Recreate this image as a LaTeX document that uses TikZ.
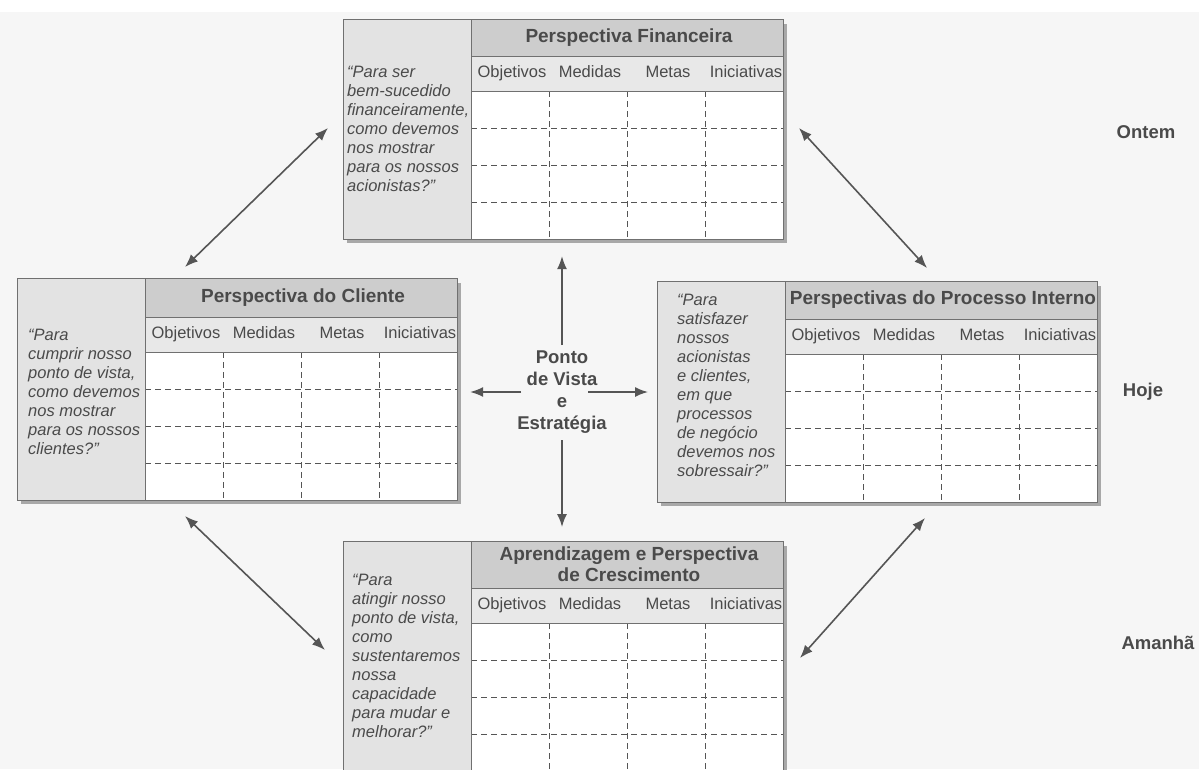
\documentclass[tikz,border=0pt]{standalone}
\usepackage{fontspec}
\setmainfont{Liberation Sans}
\usetikzlibrary{positioning,arrows.meta,calc}

\definecolor{cinzatexto}{HTML}{4A4A4A}
\definecolor{cinzacit}{HTML}{E3E3E3}
\definecolor{cinzatit}{HTML}{CDCDCD}
\definecolor{cinzacab}{HTML}{E8E8E8}
\definecolor{cinzaborda}{HTML}{707070}
\definecolor{cinzasombra}{HTML}{A8A8A8}
\definecolor{cinzaseta}{HTML}{555555}
\definecolor{papel}{HTML}{F6F6F6}

% quadro: nome, canto, altura do titulo, titulo, texto, posicao do texto
\newcommand{\quadro}[6]{%
  \begin{scope}[shift={#2}]
    \pgfmathsetmacro{\altura}{#3+183}
    \fill[cinzasombra] (4,5) rectangle (444,\altura+4);
    \fill[cinzacit] (0,0) rectangle (128,\altura);
    \fill[cinzatit] (128,0) rectangle (440,#3);
    \fill[cinzacab] (128,#3) rectangle (440,#3+35);
    \fill[white] (128,#3+35) rectangle (440,\altura);
    \foreach \i in {1,2,3}
      \draw[tracejado] (128,#3+35+37*\i) -- (440,#3+35+37*\i);
    \foreach \i in {1,2,3}
      \draw[tracejado] (128+78*\i,#3+35) -- (128+78*\i,\altura);
    \draw[linha] (128,#3) -- (440,#3) (128,#3+35) -- (440,#3+35);
    \draw[linha] (128,0) -- (128,\altura);
    \node[caixa, minimum height=\altura] (#1) at (0,0) {};
    \node[titulo] (#1-tit) at (286,#3/2) {#4};
    \foreach \c [count=\k] in {Objetivos,Medidas,Metas,Iniciativas}
      \node[coluna] (#1-col\k) at (128+78*\k-37,#3+17.5) {\c};
    \node[citacao, #6] (#1-txt) {#5};
  \end{scope}}

\begin{document}
\begin{tikzpicture}[x=1pt,y=-1pt,>={Latex[length=13pt,width=10pt]},
    caixa/.style={draw=cinzaborda,line width=1.1pt,anchor=north west,minimum width=440,inner sep=0},
    linha/.style={cinzaborda,line width=0.9pt},
    tracejado/.style={cinzaseta,line width=1pt,dash pattern=on 6pt off 4pt},
    titulo/.style={text=cinzatexto,font=\fontsize{19}{21}\selectfont\bfseries,align=center,inner sep=0},
    coluna/.style={text=cinzatexto,font=\fontsize{16.5}{18}\selectfont,inner sep=0,text height=12pt,text depth=3.5pt},
    citacao/.style={text=cinzatexto,font=\fontsize{16.5}{19}\selectfont\itshape,align=left,anchor=north west,inner sep=0},
    centro/.style={text=cinzatexto,font=\fontsize{18.5}{22}\selectfont\bfseries,align=center,inner sep=0},
    tempo/.style={text=cinzatexto,font=\fontsize{18.5}{22}\selectfont\bfseries,inner sep=0},
    seta/.style={draw=cinzaseta,line width=1.6pt}]
  \useasboundingbox (0,0) rectangle (1199,769);
  \clip (0,0) rectangle (1199,769);
  \fill[papel] (0,12) rectangle (1199,769);

  \quadro{fin}{(343,19)}{37}{Perspectiva Financeira}
    {“Para ser\\bem-sucedido\\financeiramente,\\como devemos\\nos mostrar\\para os nossos\\acionistas?”}{at={(4,47)}}
  \quadro{cli}{(17,278)}{39}{Perspectiva do Cliente}
    {“Para\\cumprir nosso\\ponto de vista,\\como devemos\\nos mostrar\\para os nossos\\clientes?”}{at={(11,51)}}
  \quadro{proc}{(657,281)}{38}{Perspectivas do Processo Interno}
    {“Para\\satisfazer\\nossos\\acionistas\\e clientes,\\em que\\processos\\de negócio\\devemos nos\\sobressair?”}{at={(20,13)}}
  \quadro{apr}{(343,541)}{47}{Aprendizagem e Perspectiva\\de Crescimento}
    {“Para\\atingir nosso\\ponto de vista,\\como\\sustentaremos\\nossa\\capacidade\\para mudar e\\melhorar?”}{at={(9,33)}}

  \node[centro] (pv) at (562,392) {Ponto\\de Vista\\e\\Estratégia};

  \node[tempo] (ontem) at (1146,132) {Ontem};
  \node[tempo] (hoje) at (1143,392) {Hoje};
  \node[tempo] (amanha) at (1158,643) {Amanhã};

  \draw[seta,->,shorten <=47pt,shorten >=16pt] (pv.center) -- (pv.center |- fin.south);
  \draw[seta,->,shorten <=48pt,shorten >=14pt] (pv.center) -- (pv.center |- apr.north);
  \draw[seta,->,shorten <=41pt,shorten >=12pt] (pv.center) -- (pv.center -| cli.east);
  \draw[seta,->,shorten <=26pt,shorten >=9pt] (pv.center) -- (pv.center -| proc.west);

  \coordinate (d1a) at (185,267);
  \coordinate (d1b) at (328,128);
  \coordinate (d2a) at (799,128);
  \coordinate (d2b) at (927,268);
  \coordinate (d3a) at (185,516);
  \coordinate (d3b) at (325,650);
  \coordinate (d4a) at (925,518);
  \coordinate (d4b) at (800,658);
  \draw[seta,<->] (d1a) -- (d1b);
  \draw[seta,<->] (d2a) -- (d2b);
  \draw[seta,<->] (d3a) -- (d3b);
  \draw[seta,<->] (d4a) -- (d4b);
\end{tikzpicture}
\end{document}
